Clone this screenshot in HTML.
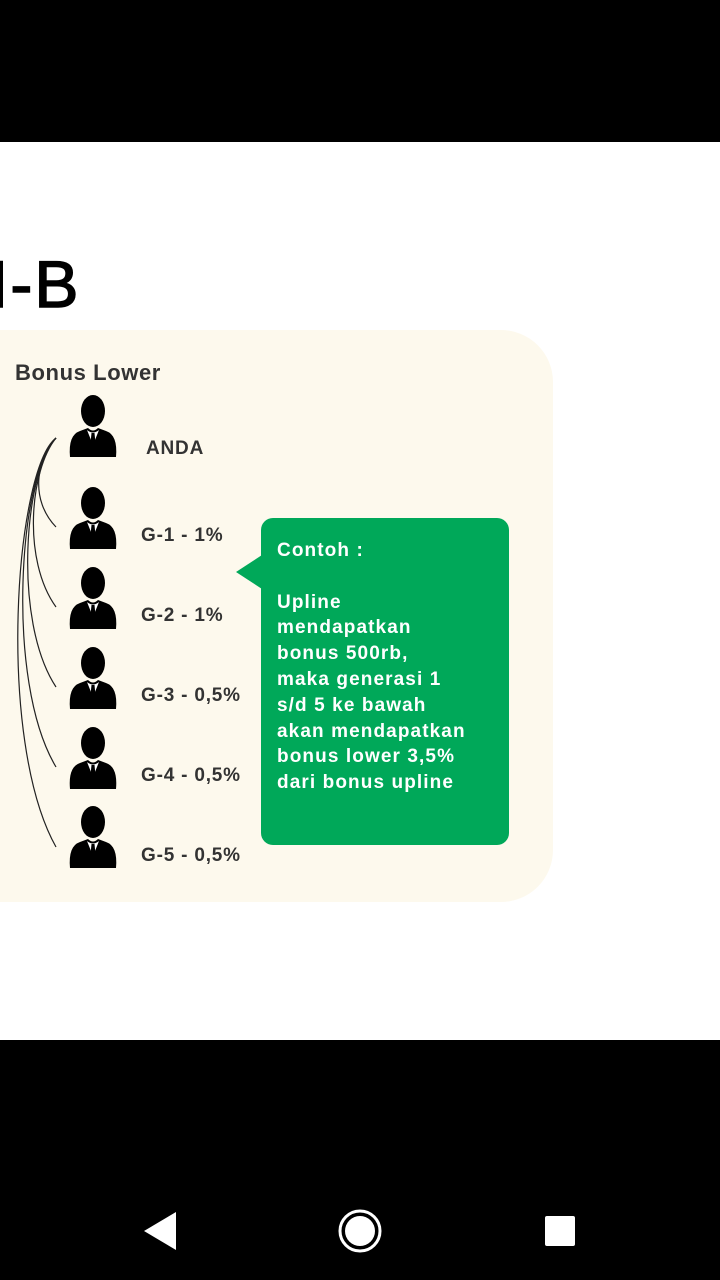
<!DOCTYPE html>
<html><head><meta charset="utf-8"><style>
body{margin:0;width:720px;height:1280px;position:relative;overflow:hidden;background:#fff;font-family:"Liberation Sans",sans-serif}
.top{position:absolute;left:0;top:0;width:720px;height:142px;background:#000}
.bot{position:absolute;left:0;top:1040px;width:720px;height:240px;background:#000}
.title{position:absolute;left:-10px;top:246px;font-size:66px;color:#000;letter-spacing:2px;-webkit-text-stroke:1.5px #000}
.card{position:absolute;left:-60px;top:330px;width:613px;height:572px;background:#fdf9ed;border-radius:52px}
.h{position:absolute;left:15px;top:360px;font-size:22px;font-weight:bold;color:#333;letter-spacing:0.6px}
.lbl{position:absolute;left:141px;font-size:19px;font-weight:bold;color:#333;letter-spacing:0.8px}
.green{position:absolute;left:261px;top:518px;width:248px;height:327px;background:#00a859;border-radius:12px;color:#fff;font-size:19px;font-weight:bold;line-height:25.8px;box-sizing:border-box;padding:20px 16px;letter-spacing:1.1px;white-space:nowrap}
.tri{position:absolute;left:236px;top:555px;width:0;height:0;border-top:17px solid transparent;border-bottom:17px solid transparent;border-right:26px solid #00a859}
svg{position:absolute;left:0;top:0}
</style></head><body>
<div class="top"></div>
<div class="title">I-B</div>
<div class="card"></div>
<div class="h">Bonus Lower</div>
<svg width="720" height="1280">
<defs><g id="p">
<ellipse cx="25" cy="16" rx="12" ry="16" fill="#000"/>
<path d="M2 62 Q0 40 12 36 L20 33 Q25 38 30 33 L38 36 Q50 40 48 62 Z" fill="#000"/>
<path d="M19 35 L25 50 L31 35 Q25 40 19 35Z" fill="#fff"/>
<path d="M23.5 38 L26.5 38 L27.5 48 L25 53 L22.5 48Z" fill="#000"/>
</g></defs>
<use href="#p" x="68" y="395"/>
<use href="#p" x="68" y="487"/>
<use href="#p" x="68" y="567"/>
<use href="#p" x="68" y="647"/>
<use href="#p" x="68" y="727"/>
<use href="#p" x="68" y="806"/>
<g fill="none" stroke="#222" stroke-width="1.2">
<path d="M56 438 C36 460 30 500 56 527"/>
<path d="M56 438 C30 470 22 560 56 607"/>
<path d="M56 438 C25 470 12 620 56 687"/>
<path d="M56 438 C20 470 4 680 56 767"/>
<path d="M56 438 C15 470 -4 740 56 847"/>
</g>
</svg>
<div class="lbl" style="left:146px;top:438px">ANDA</div>
<div class="lbl" style="top:525px">G-1 - 1%</div>
<div class="lbl" style="top:605px">G-2 - 1%</div>
<div class="lbl" style="top:685px">G-3 - 0,5%</div>
<div class="lbl" style="top:765px">G-4 - 0,5%</div>
<div class="lbl" style="top:845px">G-5 - 0,5%</div>
<div class="tri"></div>
<div class="green">Contoh :<br><br>Upline<br>mendapatkan<br>bonus 500rb,<br>maka generasi 1<br>s/d 5 ke bawah<br>akan mendapatkan<br>bonus lower 3,5%<br>dari bonus upline</div>
<div class="bot"></div>
<svg width="720" height="1280" style="pointer-events:none">
<polygon points="176,1212 176,1250 144,1231" fill="#fff"/>
<circle cx="360" cy="1231" r="20" fill="none" stroke="#fff" stroke-width="3"/>
<circle cx="360" cy="1231" r="15" fill="#fff"/>
<rect x="545" y="1216" width="30" height="30" rx="2" fill="#fff"/>
</svg>
</body></html>
